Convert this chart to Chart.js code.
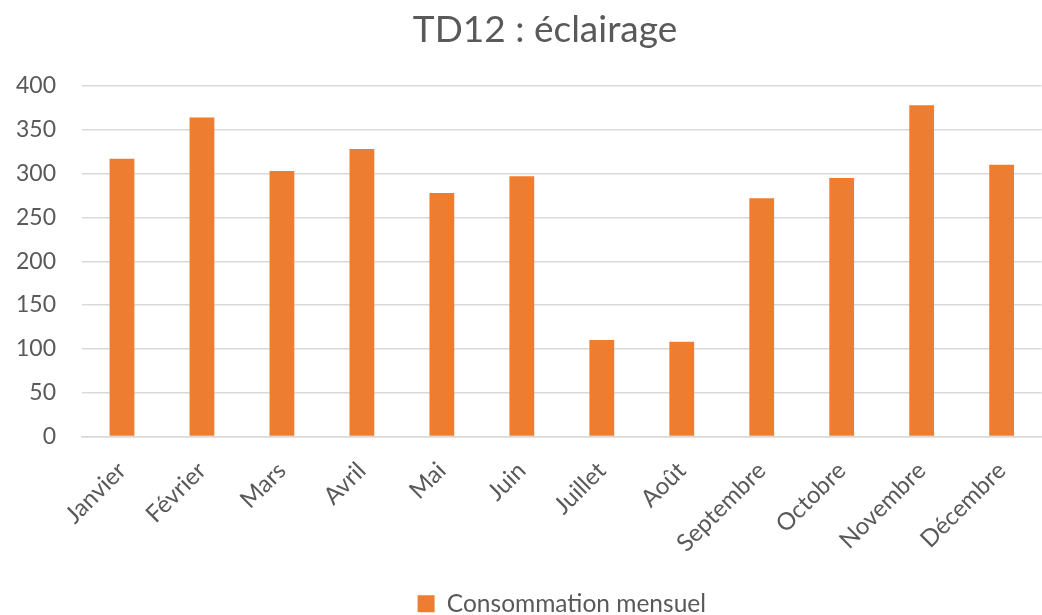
<!DOCTYPE html>
<html>
<head>
<meta charset="utf-8">
<script src="https://cdn.jsdelivr.net/npm/chart.js@4"></script>
<style>
html,body{margin:0;padding:0;background:#fff;}
#wrap{width:1042px;height:615px;}
</style>
</head>
<body>
<div id="wrap"><canvas id="c" width="1042" height="615"></canvas></div>
<script>
const categories = ["Janvier","Février","Mars","Avril","Mai","Juin","Juillet","Août","Septembre","Octobre","Novembre","Décembre"];
const consommation = [317, 364, 303, 328, 278, 297, 110, 108, 272, 295, 378, 310];
const seriesName = "Consommation mensuel";
const chartTitle = "TD12 : éclairage";
const yMin = 0, yMax = 400, yStep = 50;

const FONT = "Lato, 'Open Sans', sans-serif";
const GREY = "#595959";

const titlePlugin = {
  id: 'offsetTitle',
  afterDraw(chart) {
    const ctx = chart.ctx;
    ctx.save();
    ctx.fillStyle = GREY;
    ctx.font = "37px " + FONT;
    ctx.textAlign = 'center';
    ctx.textBaseline = 'middle';
    ctx.fillText(chartTitle, 545, 30);
    ctx.restore();
  }
};

new Chart(document.getElementById('c'), {
  type: 'bar',
  data: {
    labels: categories,
    datasets: [{
      label: seriesName,
      data: consommation,
      backgroundColor: '#ED7D31',
      borderWidth: 0,
      barPercentage: 0.62,
      categoryPercentage: 0.5
    }]
  },
  plugins: [titlePlugin],
  options: {
    responsive: false,
    animation: false,
    layout: { padding: { left: 8, right: 0, top: 86, bottom: -11 } },
    plugins: {
      title: { display: false },
      legend: {
        position: 'bottom',
        fullSize: false,
        labels: {
          color: GREY,
          font: { family: FONT, size: 24.5 },
          boxWidth: 17, boxHeight: 17,
          padding: 2
        }
      },
      tooltip: { enabled: false }
    },
    scales: {
      x: {
        grid: { display: false, drawTicks: false },
        border: { display: true, color: '#d9d9d9', width: 1.5 },
        ticks: {
          color: GREY,
          font: { family: FONT, size: 24 },
          maxRotation: 45, minRotation: 45,
          padding: 20,
          autoSkip: false
        },
        afterFit: (s) => { s.height = 153; }
      },
      y: {
        min: yMin, max: yMax,
        grid: { color: '#d9d9d9', lineWidth: 1.5, drawTicks: false },
        border: { display: false },
        ticks: {
          stepSize: yStep,
          color: GREY,
          font: { family: FONT, size: 23 },
          padding: 26
        },
        afterFit: (s) => { s.width = 74; }
      }
    }
  }
});
</script>
</body>
</html>
